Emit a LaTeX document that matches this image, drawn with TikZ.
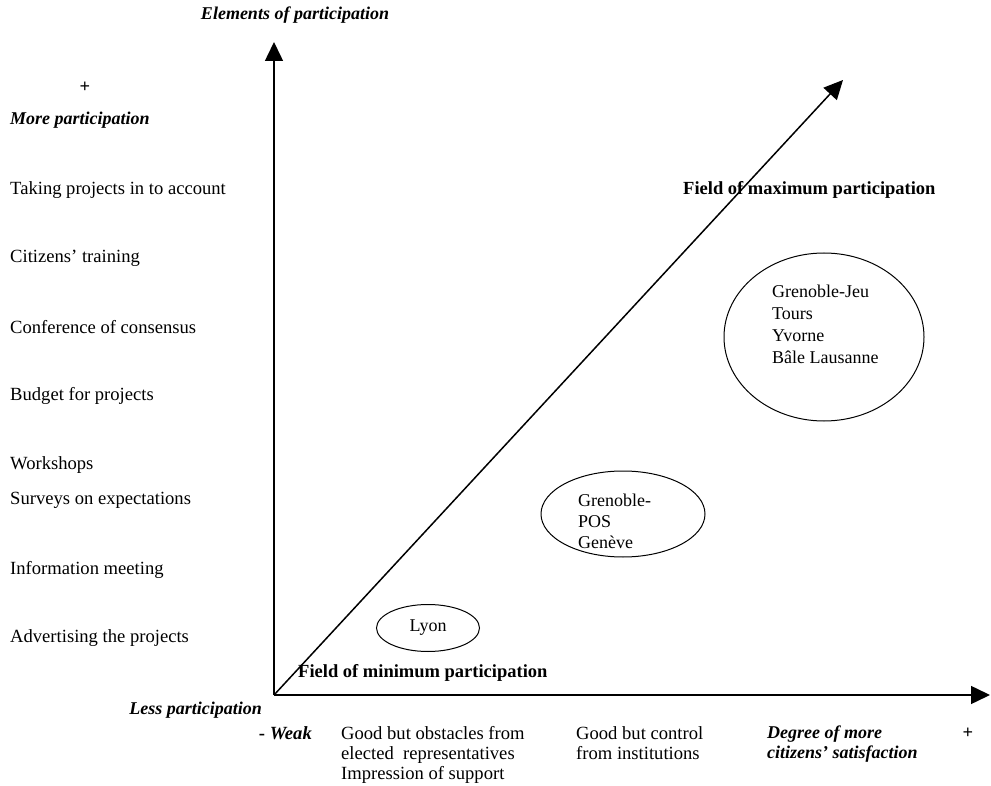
\documentclass[tikz,border=0pt]{standalone}
\usepackage{fontspec}
\setmainfont{Liberation Serif}
\usetikzlibrary{arrows.meta,shapes.geometric}

\tikzset{
  lbl/.style={anchor=west, inner sep=0pt, font=\fontsize{18.6}{20}\selectfont},
  bilbl/.style={lbl, font=\fontsize{18}{20}\selectfont\bfseries\itshape},
  fieldlbl/.style={lbl, font=\fontsize{18.5}{20}\selectfont\bfseries},
  oval/.style={draw, ellipse, line width=1pt, inner sep=0pt},
  axis/.style={line width=1.5pt, -{Triangle[length=19pt,width=18pt]}},
}

\begin{document}
\begin{tikzpicture}[x=1pt,y=-1pt]
    \useasboundingbox (0,0) rectangle (991,786);

    % axes
    \coordinate (O) at (274,695);
    \coordinate (ytip) at (274,42);
    \coordinate (xtip) at (990,695);
    \coordinate (dtip) at (843,80);
    \draw [axis] (O) -- (ytip);
    \draw [axis] (O) -- (xtip);
    \draw [axis] (O) -- (dtip);

    \node [bilbl, anchor=center] (elem) at (295,15) {Elements of participation};
    \node [fieldlbl, anchor=center] (plustop) at (85,87) {+};
    \node [bilbl] (more) at (10,120) {More participation};

    % elements along the vertical axis
    \foreach \y/\t [count=\i] in {190/Taking projects in to account,
        258/Citizens’ training, 327/Conference of consensus,
        396/Budget for projects, 465/Workshops, 500/Surveys on expectations,
        570/Information meeting, 638/Advertising the projects}
      \node [lbl] (elt\i) at (10,\y) {\t};

    \node [bilbl, anchor=east] (less) at (262,710) {Less participation};

    % satisfaction along the horizontal axis
    \node [lbl, anchor=east] (weak) at (312,733) {\textbf{-} \textbf{\textit{Weak}}};
    \node [lbl, anchor=north west, align=left] (obst) at (341,726)
      {Good but obstacles from\\elected\ \ representatives\\Impression of support};
    \node [lbl, anchor=north west, align=left] (ctrl) at (576,726)
      {Good but control\\from institutions};
    \node [bilbl, anchor=north west, align=left] (degree) at (767,726)
      {Degree of more\\citizens’ satisfaction};
    \node [fieldlbl, anchor=center] (plusright) at (968,733) {+};

    \node [fieldlbl] (fmax) at (683,190) {Field of maximum participation};
    \node [fieldlbl] (fmin) at (298,673) {Field of minimum participation};

    % cases
    \node [oval, minimum width=200pt, minimum height=168pt] (maxcase) at (824,337) {};
    \node [lbl, anchor=north west, align=left, font=\fontsize{18}{22}\selectfont] (maxtxt) at (772,285)
      {Grenoble-Jeu\\Tours\\Yvorne\\Bâle Lausanne};
    \node [oval, minimum width=164pt, minimum height=86pt] (midcase) at (623,514) {};
    \node [lbl, anchor=north west, align=left, font=\fontsize{18}{21}\selectfont] (midtxt) at (578,494)
      {Grenoble-\\POS\\Genève};
    \node [oval, minimum width=103pt, minimum height=47pt, font=\fontsize{18}{20}\selectfont] (lyon) at (428,628) {Lyon};
\end{tikzpicture}
\end{document}
